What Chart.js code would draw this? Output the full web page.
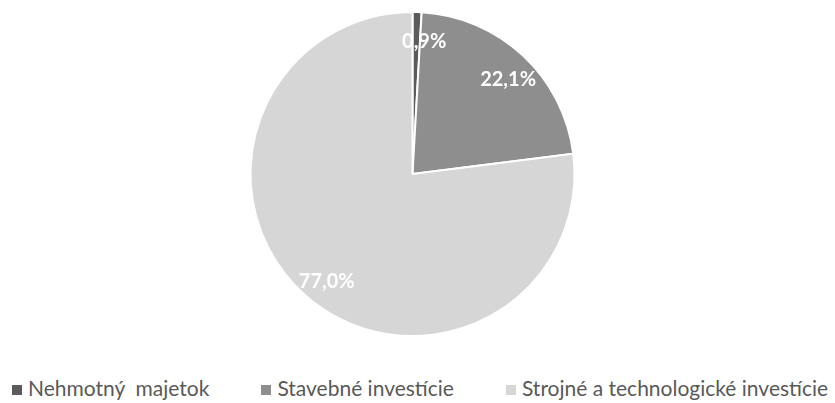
<!DOCTYPE html>
<html>
<head>
<meta charset="utf-8">
<script src="https://cdn.jsdelivr.net/npm/chart.js@4"></script>
<style>
  html, body { margin: 0; padding: 0; background: #fff; }
  #wrap { position: relative; width: 835px; height: 403px; overflow: hidden; }
  #chart { position: absolute; left: 0; top: 0; }
  #legend {
    position: absolute; left: 12px; top: 375px;
    display: flex; column-gap: 52px; white-space: nowrap;
    font-family: Lato, sans-serif; font-size: 21px; color: #595959;
  }
  #legend span.box { display: inline-block; width: 10px; height: 10px; margin-right: 6px; vertical-align: 1px; }
</style>
</head>
<body>
<div id="wrap">
  <canvas id="chart" width="835" height="355"></canvas>
  <div id="legend"></div>
</div>
<script>
const labels = ['Nehmotný  majetok', 'Stavebné investície', 'Strojné a technologické investície'];
const shares = [0.9, 22.1, 77.0];
const colors = ['#5b5b5b', '#8e8e8e', '#d6d6d6'];

// white percentage labels on the slices
const sliceLabels = {
  id: 'sliceLabels',
  afterDatasetsDraw(chart) {
    const ctx = chart.ctx;
    const meta = chart.getDatasetMeta(0);
    const nudge = [0.06, 0.04, -0.05];
    const depth = [0.82, 0.83, 0.85];
    ctx.save();
    ctx.font = 'bold 20px Lato, sans-serif';
    ctx.fillStyle = '#ffffff';
    ctx.textAlign = 'center';
    ctx.textBaseline = 'middle';
    meta.data.forEach((arc, i) => {
      const mid = (arc.startAngle + arc.endAngle) / 2 + nudge[i];
      const r = arc.outerRadius * depth[i];
      const x = arc.x + Math.cos(mid) * r;
      const y = arc.y + Math.sin(mid) * r;
      ctx.fillText(shares[i].toFixed(1).replace('.', ',') + '%', x, y);
    });
    ctx.restore();
  }
};

new Chart(document.getElementById('chart'), {
  type: 'pie',
  data: {
    labels,
    datasets: [{
      data: shares,
      backgroundColor: colors,
      borderColor: '#ffffff',
      borderWidth: 2
    }]
  },
  options: {
    responsive: false,
    animation: false,
    layout: { padding: { top: 11, bottom: 18, right: 10 } },
    plugins: {
      legend: { display: false },
      tooltip: { enabled: false }
    }
  },
  plugins: [sliceLabels]
});

const legendEl = document.getElementById('legend');
labels.forEach((l, i) => {
  const item = document.createElement('div');
  item.innerHTML = '<span class="box" style="background:' + colors[i] + '"></span>' + l.replace(/  /g, ' &nbsp;');
  legendEl.appendChild(item);
});
</script>
</body>
</html>
